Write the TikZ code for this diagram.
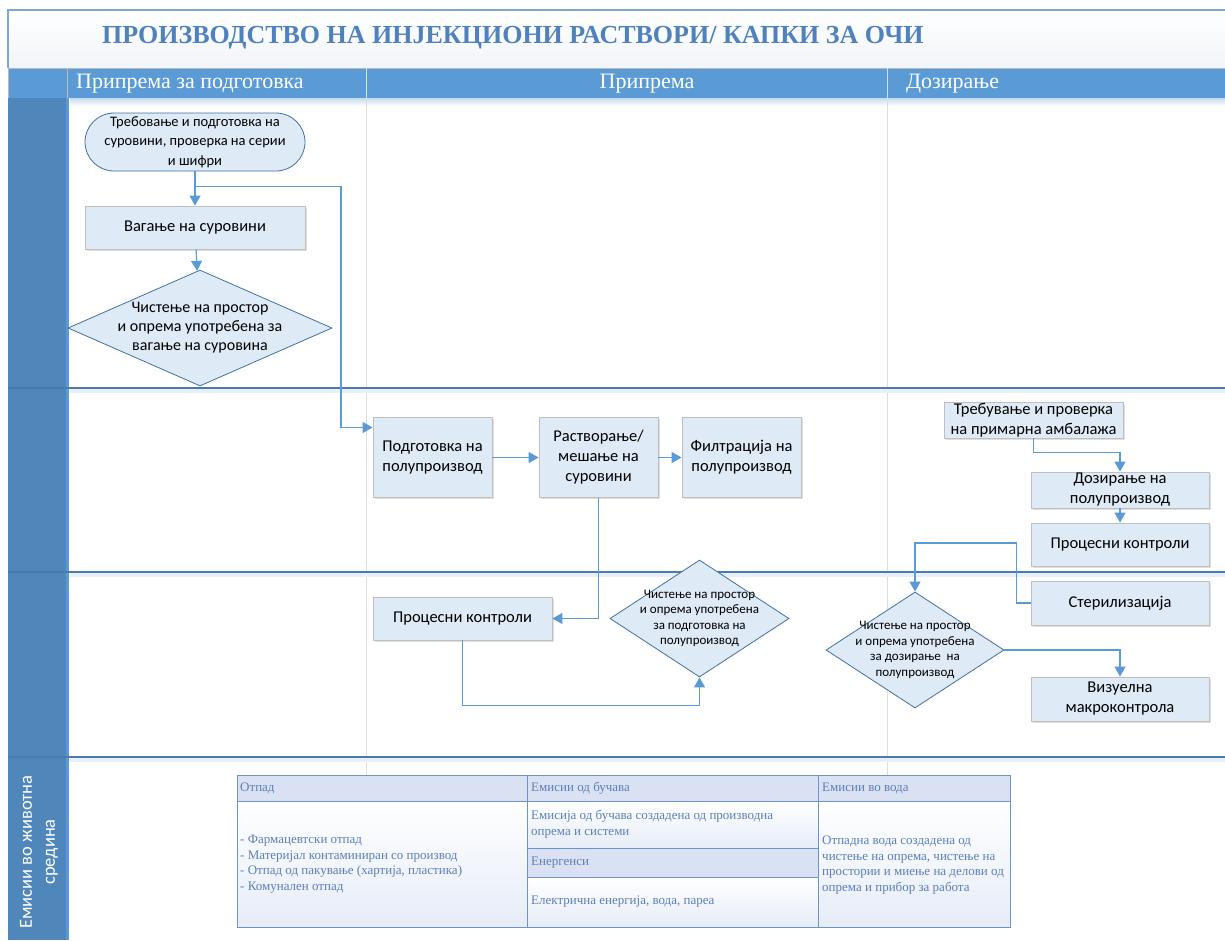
\documentclass[tikz,border=0pt]{standalone}
\usepackage{fontspec}
\setmainfont{Liberation Serif}
\newfontfamily\carlito{Carlito}
\usetikzlibrary{shapes.geometric,arrows.meta,shadows}

\definecolor{headblue}{HTML}{5B9BD5}
\definecolor{barblue}{HTML}{4F87BA}
\definecolor{lanedark}{HTML}{4A7AAF}
\definecolor{titleblue}{HTML}{4F81BD}
\definecolor{titleline}{HTML}{7FA7D3}
\definecolor{titlebot}{HTML}{F1F4F9}
\definecolor{boxfill}{HTML}{DEEAF6}
\definecolor{boxline}{HTML}{BFBFBF}
\definecolor{shapeline}{HTML}{41719C}
\definecolor{flowblue}{HTML}{5B9BD5}
\definecolor{colgrey}{HTML}{DEDEDE}
\definecolor{tabline}{HTML}{6C94C8}
\definecolor{tabhead}{HTML}{DAE1F2}
\definecolor{tabbody}{HTML}{E6ECF7}
\definecolor{tabtext}{HTML}{5B80B8}

\begin{document}
\begin{tikzpicture}[
            x = 1pt, y = -1pt,
            every node/.style={align=center, inner sep=0pt, font=\carlito\fontsize{16.5}{20}\selectfont},
            box/.style={draw=boxline, fill=boxfill, line width=.8pt, drop shadow={shadow xshift=1.5pt, shadow yshift=-1.5pt, opacity=.25}},
            terminal/.style={draw=shapeline, fill=boxfill, line width=.8pt, rounded corners=29pt, font=\carlito\fontsize{14.5}{19.5}\selectfont},
            decision/.style={diamond, draw=shapeline, fill=boxfill, line width=.8pt},
            large/.style={font=\carlito\fontsize{16}{19}\selectfont},
            small/.style={font=\carlito\fontsize{13}{15.5}\selectfont},
            colhead/.style={font=\fontsize{22}{26}\selectfont, text=white},
            flow/.style={draw=flowblue, line width=1.2pt, -{Triangle[length=10pt, width=11pt]}},
            lane/.style={draw=lanedark, line width=1.6pt},
            cell/.style={draw=tabline, line width=.9pt},
            tabtxt/.style={font=\fontsize{13}{15.7}\selectfont, text=tabtext, align=left, anchor=west},
            ]
        \useasboundingbox (0,0) rectangle (1225,940);

        % frame, title and header row
        \shade[top color=white, bottom color=titlebot] (8,10) rectangle (1225,68);
        \draw[titleline, line width=1.5pt] (1225,10) -- (8,10) -- (8,68);
        \node[anchor=west, font=\bfseries\fontsize{26}{30}\selectfont, text=titleblue] (title) at (102,38) {ПРОИЗВОДСТВО НА ИНЈЕКЦИОНИ РАСТВОРИ/ КАПКИ ЗА ОЧИ};
        \fill[headblue] (8,68) rectangle (1225,98);
        \shade[top color=headblue!35, bottom color=white] (70,98) rectangle (1225,106);
        \draw[gray!55, line width=1pt] (8,68) -- (1225,68) (8,68) rectangle (67,98);
        \draw[white!70!headblue, line width=1pt] (366,68) -- (366,98) (887,68) -- (887,98);
        \node[colhead, anchor=west] (colPrep) at (76,84) {Припрема за подготовка};
        \node[colhead] (colMain) at (647,84) {Припрема};
        \node[colhead, anchor=west] (colDose) at (906,84) {Дозирање};

        % lanes
        \fill[barblue] (8,98) rectangle (67,940);
        \fill[headblue] (66,98) rectangle (69,940);
        \draw[colgrey, line width=1pt] (366,98) -- (366,775) (887,98) -- (887,775);
        \foreach \ly in {388,572,757} {
            \draw[headblue!15, line width=4pt] (70,\ly+3) -- (1225,\ly+3);
            \draw[lane] (8,\ly) -- (1225,\ly);
        }
        \node[rotate=90, text=white, font=\carlito\fontsize{18.5}{23}\selectfont] (laneEnv) at (39,852) {Емисии во животна\\средина};

        % first lane
        \node[terminal, minimum width=220pt, minimum height=58pt] (request) at (195,142) {Требовање и подготовка на\\суровини, проверка на серии\\и шифри};
        \node[box, minimum width=220pt, minimum height=43pt] (weigh) at (195,227.5) {Вагање на суровини};
        \node[decision, minimum width=264pt, minimum height=116pt,
            label={[large]center:Чистење на простор\\и опрема употребена за\\вагање на суровина}] (cleanW) at (200,328) {};

        % second lane
        \node[box, minimum width=119pt, minimum height=80pt] (prepSemi) at (432.5,457.5) {Подготовка на\\полупроизвод};
        \node[box, minimum width=119pt, minimum height=80pt] (dissolve) at (598.5,457.5) {Растворање/\\мешање на\\суровини};
        \node[box, minimum width=119pt, minimum height=80pt] (filter) at (741.5,457.5) {Филтрација на\\полупроизвод};
        \node[box, minimum width=179pt, minimum height=36pt] (packReq) at (1033.5,420) {Требување и проверка\\на примарна амбалажа};
        \node[box, minimum width=178pt, minimum height=36pt] (dosing) at (1120,490) {Дозирање на\\полупроизвод};
        \node[box, minimum width=178pt, minimum height=43pt] (ctrlDose) at (1120,544.5) {Процесни контроли};

        % third lane
        \node[box, minimum width=179pt, minimum height=43pt] (ctrlPrep) at (462.5,618.5) {Процесни контроли};
        \node[decision, minimum width=179pt, minimum height=117pt,
            label={[small]center:Чистење на простор\\и опрема употребена\\за подготовка на\\полупроизвод}] (cleanPrep) at (699.5,618.5) {};
        \node[box, minimum width=178pt, minimum height=44pt] (steril) at (1120,603) {Стерилизација};
        \node[decision, minimum width=178pt, minimum height=116pt,
            label={[small]center:Чистење на простор\\и опрема употребена\\за дозирање~ на\\полупроизвод}] (cleanDose) at (915,650) {};
        \node[box, minimum width=178pt, minimum height=44pt] (visual) at (1120,699) {Визуелна\\макроконтрола};

        \coordinate (inPrep) at ([yshift=30pt]prepSemi.west);

        % connectors
        \draw[flow] (request) -- (weigh);
        \draw[flow] ([yshift=-15pt]request.south) -- ++(146,0) |- (inPrep);
        \draw[flow] (weigh) -- (cleanW);
        \draw[flow] (prepSemi) -- (dissolve);
        \draw[flow] (dissolve) -- (filter);
        \draw[flow] (dissolve.south) |- (ctrlPrep.east);
        \draw[flow] (ctrlPrep.south) -- ++(0,65) -| (cleanPrep.south);
        \draw[flow] (packReq.south) -- ++(0,14) -| (dosing.north);
        \draw[flow] (dosing) -- (ctrlDose);
        \draw[flow] (steril.west) -- ++(-14,0) -- ++(0,-60) -| (cleanDose.north);
        \draw[flow] (cleanDose.east) -| (visual.north);

        % emissions table
        \draw[cell, fill=tabhead] (237,775) rectangle (527,801) (527,775) rectangle (818,801) (818,775) rectangle (1010,801) (527,848) rectangle (818,877);
        \draw[cell, top color=white, bottom color=tabbody] (237,801) rectangle (527,927);
        \draw[cell, top color=white, bottom color=tabbody] (527,801) rectangle (818,848);
        \draw[cell, top color=white, bottom color=tabbody] (527,877) rectangle (818,927);
        \draw[cell, top color=white, bottom color=tabbody] (818,801) rectangle (1010,927);
        \node[tabtxt] (wasteHead) at (240,788) {Отпад};
        \node[tabtxt] (waste) at (240,864) {- Фармацевтски отпад\\- Материјал контаминиран со производ\\- Отпад од пакување (хартија, пластика)\\- Комунален отпад};
        \node[tabtxt] (noiseHead) at (531,788) {Емисии од бучава};
        \node[tabtxt] (noise) at (531,824.5) {Емисија од бучава создадена од производна\\опрема и системи};
        \node[tabtxt] (energyHead) at (531,862.5) {Енергенси};
        \node[tabtxt] (energy) at (531,902) {Електрична енергија, вода, пареа};
        \node[tabtxt] (waterHead) at (822,788) {Емисии во вода};
        \node[tabtxt] (water) at (822,865) {Отпадна вода создадена од\\чистење на опрема, чистење на\\простории и миење на делови од\\опрема и прибор за работа};

    \end{tikzpicture}
\end{document}
